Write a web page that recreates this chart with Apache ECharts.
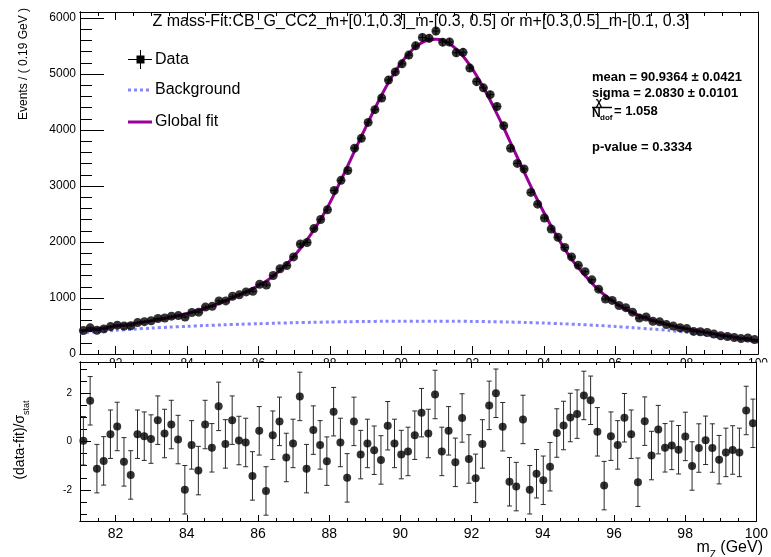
<!DOCTYPE html>
<html><head><meta charset="utf-8">
<script src="https://cdn.jsdelivr.net/npm/echarts@6/dist/echarts.min.js"></script>
<style>html,body{margin:0;padding:0;background:#fff}#c{width:771px;height:557px}</style>
</head><body><div id="c"></div>
<script>
const FONT = '"Liberation Sans", Arial, Helvetica, sans-serif';

// ---- binning ----
const xMin = 81, xMax = 100, binWidth = 0.19;

// ---- data: events per bin ----
const dataCounts = [
  418, 467, 424, 448, 490, 515, 500, 504, 561, 578,
  594, 635, 643, 676, 686, 661, 742, 747, 838, 851,
  948, 949, 1031, 1057, 1109, 1119, 1247, 1232, 1402, 1524,
  1580, 1735, 1965, 1991, 2240, 2403, 2577, 2921, 3103, 3278,
  3677, 3853, 4137, 4365, 4574, 4894, 5040, 5184, 5340, 5505,
  5656, 5640, 5770, 5571, 5574, 5382, 5389, 5108, 4865, 4755,
  4633, 4421, 4078, 3675, 3405, 3306, 2887, 2677, 2430, 2233,
  2086, 1903, 1734, 1584, 1471, 1325, 1159, 981, 957, 866,
  828, 747, 642, 661, 585, 575, 525, 499, 468, 454,
  404, 398, 384, 356, 326, 313, 295, 275, 285, 258
];

// ---- global fit evaluated at bin centres ----
const fitValues = [
  417, 432, 448, 465, 483, 501, 519, 536, 554, 573,
  592, 613, 635, 658, 684, 714, 746, 780, 818, 859,
  904, 952, 1003, 1056, 1110, 1168, 1232, 1306, 1392, 1492,
  1606, 1738, 1884, 2042, 2218, 2410, 2618, 2855, 3105, 3365,
  3627, 3887, 4142, 4389, 4626, 4849, 5046, 5223, 5370, 5486,
  5567, 5615, 5624, 5602, 5541, 5445, 5318, 5160, 4972, 4762,
  4533, 4291, 4039, 3777, 3515, 3254, 2996, 2747, 2510, 2283,
  2070, 1874, 1693, 1540, 1400, 1265, 1145, 1040, 950, 870,
  800, 739, 686, 640, 599, 563, 531, 503, 475, 450,
  425, 403, 383, 361, 340, 321, 301, 283, 264, 246
];
const fitAtEdges = [410, 238];   // fit at m = 81 and m = 100

// ---- background component ----
const bkgMass = [81, 81.5, 82, 82.5, 83, 83.5, 84, 84.5, 85, 85.5, 86, 86.5, 87, 87.5, 88, 88.5, 89, 89.5, 90, 90.5,
  91, 91.5, 92, 92.5, 93, 93.5, 94, 94.5, 95, 95.5, 96, 96.5, 97, 97.5, 98, 98.5, 99, 99.5, 100];
const bkgValues = [375, 400, 423, 444, 463, 480, 495, 509, 521, 532, 542, 551, 559, 566, 572, 577, 581, 584, 586, 587,
  587, 585, 582, 577, 571, 563, 553, 541, 527, 511, 492, 471, 447, 420, 387, 346, 300, 255, 210];

// ---- pulls (data-fit)/sigma_stat ----
const pullValues = [
  0.03, 1.68, -1.12, -0.80, 0.30, 0.62, -0.84, -1.38, 0.30, 0.22,
  0.10, 0.88, 0.33, 0.70, 0.08, -1.99, -0.14, -1.20, 0.70, -0.26,
  1.45, -0.10, 0.88, 0.04, -0.04, -1.42, 0.44, -2.04, 0.26, 0.83,
  -0.66, -0.08, 1.86, -1.12, 0.47, -0.14, -0.81, 1.23, -0.04, -1.50,
  0.83, -0.54, -0.08, -0.36, -0.76, 0.65, -0.08, -0.54, -0.41, 0.26,
  1.19, 0.33, 1.94, -0.41, 0.44, -0.86, 0.97, -0.72, -1.52, -0.10,
  1.49, 1.99, 0.61, -1.66, -1.86, 0.91, -1.99, -1.33, -1.60, -1.04,
  0.35, 0.66, 0.99, 1.13, 1.90, 1.70, 0.40, -1.82, 0.22, -0.14,
  0.98, 0.30, -1.68, 0.84, -0.58, 0.49, -0.26, -0.16, -0.34, 0.21,
  -1.01, -0.27, 0.05, -0.27, -0.75, -0.45, -0.35, -0.45, 1.28, 0.75
];
const pullError = 1;
const pullRefLines = [-2, 0, 2];

// ---- tick labels ----
const xMajorTicks = [82, 84, 86, 88, 90, 92, 94, 96, 98, 100];
const yTopMajorTicks = [0, 1000, 2000, 3000, 4000, 5000, 6000];
const pullMajorTicks = [-2, 0, 2];

// minor tick positions
const xMinorTicks = [];
for (let v = 81.5; v < 100; v += 0.5) if (v % 2 !== 0) xMinorTicks.push(v);
const yTopMinorTicks = [];
for (let v = 200; v <= 6000; v += 200) if (v % 1000 !== 0) yTopMinorTicks.push(v);
const pullMinorTicks = [-3, -2.5, -1.5, -1, -0.5, 0.5, 1, 1.5, 2.5, 3];

const binCenters = dataCounts.map((_, i) => +(xMin + binWidth * (i + 0.5)).toFixed(4));

const fitPoints = [[xMin, fitAtEdges[0]]]
  .concat(binCenters.map((c, i) => [c, fitValues[i]]))
  .concat([[xMax, fitAtEdges[1]]]);
const bkgPoints = bkgMass.map((m, i) => [m, bkgValues[i]]);
const dataPoints = binCenters.map((c, i) => [c, dataCounts[i]]);
const pullPoints = binCenters.map((c, i) => [c, pullValues[i]]);

const black = '#000';
const plain = v => String(v);
function xAx(grid, pos, ticks, len, labels, z, labelOpt) {
  return {
    type: 'value', gridIndex: grid, position: pos, min: xMin, max: xMax, z: z,
    axisLine: { show: true, onZero: false, lineStyle: { color: black, width: 1 } },
    axisTick: { show: true, inside: true, length: len, customValues: ticks, lineStyle: { color: black, width: 1 } },
    axisLabel: labels ? Object.assign({ show: true, customValues: ticks, color: black, fontFamily: FONT, formatter: plain }, labelOpt) : { show: false },
    splitLine: { show: false }
  };
}
function yAx(grid, pos, min, max, ticks, len, labels, z, labelOpt) {
  return {
    type: 'value', gridIndex: grid, position: pos, min: min, max: max, z: z,
    axisLine: { show: true, onZero: false, lineStyle: { color: black, width: 1 } },
    axisTick: ticks ? { show: true, inside: true, length: len, customValues: ticks, lineStyle: { color: black, width: 1 } } : { show: false },
    axisLabel: labels ? Object.assign({ show: true, customValues: ticks, color: black, fontFamily: FONT, formatter: plain }, labelOpt) : { show: false },
    splitLine: { show: false }
  };
}

const pullMin = -3.28, pullMax = 3.28, topMax = 6110;
const ZB = 60; // bottom panel drawn above the white cover

const option = {
  animation: false,
  backgroundColor: '#fff',
  grid: [
    { left: 80, right: 8, top: 12, height: 342 },
    { left: 80, right: 8, top: 362, height: 159 }
  ],
  xAxis: [
    xAx(0, 'bottom', xMajorTicks, 8, true, 0, { fontSize: 12, margin: 4 }),
    xAx(0, 'bottom', xMinorTicks, 4, false, 0),
    xAx(0, 'top', xMajorTicks, 8, false, 0),
    xAx(0, 'top', xMinorTicks, 4, false, 0),
    xAx(1, 'bottom', xMajorTicks, 6, true, ZB, { fontSize: 14, margin: 6 }),
    xAx(1, 'bottom', xMinorTicks, 3, false, ZB),
    xAx(1, 'top', xMajorTicks, 6, false, ZB),
    xAx(1, 'top', xMinorTicks, 3, false, ZB)
  ],
  yAxis: [
    yAx(0, 'left', 0, topMax, yTopMajorTicks, 24, true, 0, { fontSize: 12, margin: 4 }),
    yAx(0, 'left', 0, topMax, yTopMinorTicks, 12, false, 0),
    yAx(0, 'right', 0, topMax, null, 0, false, 0),
    yAx(1, 'left', pullMin, pullMax, pullMajorTicks, 11, true, ZB, { fontSize: 10, margin: 8 }),
    yAx(1, 'left', pullMin, pullMax, pullMinorTicks, 7, false, ZB),
    yAx(1, 'right', pullMin, pullMax, null, 0, false, ZB)
  ],
  series: [
    {
      type: 'line', name: 'Background', xAxisIndex: 0, yAxisIndex: 0, data: bkgPoints,
      showSymbol: false, smooth: 0.3, z: 2, silent: true,
      lineStyle: { color: '#8585ff', width: 3, type: [3, 3] }
    },
    {
      type: 'line', name: 'Global fit', xAxisIndex: 0, yAxisIndex: 0, data: fitPoints,
      showSymbol: false, smooth: 0.3, z: 3, silent: true,
      lineStyle: { color: '#990099', width: 3 }
    },
    {
      type: 'custom', xAxisIndex: 0, yAxisIndex: 0, data: dataPoints, z: 4, silent: true,
      renderItem: function (params, api) {
        const x = api.value(0), y = api.value(1), e = Math.sqrt(y);
        const p1 = api.coord([x, y + e]), p2 = api.coord([x, y - e]);
        const p3 = api.coord([x - binWidth / 2, y]), p4 = api.coord([x + binWidth / 2, y]);
        return { type: 'group', children: [
          { type: 'line', shape: { x1: p1[0], y1: p1[1], x2: p2[0], y2: p2[1] }, style: { stroke: black, lineWidth: 1 } },
          { type: 'line', shape: { x1: p3[0], y1: p3[1], x2: p4[0], y2: p4[1] }, style: { stroke: black, lineWidth: 1 } }
        ] };
      }
    },
    {
      type: 'scatter', name: 'Data', xAxisIndex: 0, yAxisIndex: 0, data: dataPoints, z: 5, silent: true,
      symbol: 'circle', symbolSize: 9, itemStyle: { color: black }
    },
    {
      type: 'custom', xAxisIndex: 4, yAxisIndex: 3, data: pullPoints, z: ZB + 1, silent: true,
      renderItem: function (params, api) {
        const x = api.value(0), y = api.value(1);
        const t = api.coord([x, y + pullError]), b = api.coord([x, y - pullError]);
        const c = 2.5;
        const st = { stroke: '#2a2a2a', lineWidth: 1 };
        return { type: 'group', children: [
          { type: 'line', shape: { x1: t[0], y1: t[1], x2: b[0], y2: b[1] }, style: st },
          { type: 'line', shape: { x1: t[0] - c, y1: t[1], x2: t[0] + c, y2: t[1] }, style: st },
          { type: 'line', shape: { x1: b[0] - c, y1: b[1], x2: b[0] + c, y2: b[1] }, style: st }
        ] };
      }
    },
    {
      type: 'scatter', xAxisIndex: 4, yAxisIndex: 3, data: pullPoints, z: ZB + 2, silent: true,
      symbol: 'circle', symbolSize: 8, itemStyle: { color: black },
      markLine: {
        silent: true, symbol: 'none', label: { show: false },
        lineStyle: { color: black, width: 1, type: [1, 2] },
        data: pullRefLines.map(v => ({ yAxis: v }))
      }
    }
  ],
  graphic: [
    { type: 'rect', silent: true, z: 50, shape: { x: 0, y: 362.5, width: 771, height: 200 }, style: { fill: '#fff' } },
    { type: 'text', z: 100, x: 421, y: 22, style: { text: 'Z mass-Fit:CB_G_CC2_m+[0.1,0.3]_m-[0.3, 0.5] or m+[0.3,0.5]_m-[0.1, 0.3]', font: '16px ' + FONT, fill: black, align: 'center', verticalAlign: 'middle' } },
    // legend
    { type: 'line', z: 100, shape: { x1: 128, y1: 59.5, x2: 152, y2: 59.5 }, style: { stroke: black, lineWidth: 1 } },
    { type: 'line', z: 100, shape: { x1: 140.5, y1: 50, x2: 140.5, y2: 69 }, style: { stroke: black, lineWidth: 1 } },
    { type: 'rect', z: 100, shape: { x: 136.5, y: 55.5, width: 8, height: 8 }, style: { fill: black } },
    { type: 'text', z: 100, x: 155, y: 60, style: { text: 'Data', font: '16px ' + FONT, fill: black, align: 'left', verticalAlign: 'middle' } },
    { type: 'line', z: 100, shape: { x1: 128, y1: 90, x2: 152, y2: 90 }, style: { stroke: '#8585ff', lineWidth: 3, lineDash: [3, 3] } },
    { type: 'text', z: 100, x: 155, y: 90, style: { text: 'Background', font: '16px ' + FONT, fill: black, align: 'left', verticalAlign: 'middle' } },
    { type: 'line', z: 100, shape: { x1: 128, y1: 122, x2: 152, y2: 122 }, style: { stroke: '#990099', lineWidth: 3 } },
    { type: 'text', z: 100, x: 155, y: 122, style: { text: 'Global fit', font: '16px ' + FONT, fill: black, align: 'left', verticalAlign: 'middle' } },
    // fit statistics
    { type: 'text', z: 100, x: 592, y: 77, style: { text: 'mean = 90.9364 ± 0.0421', font: 'bold 13px ' + FONT, fill: black, align: 'left', verticalAlign: 'middle' } },
    { type: 'text', z: 100, x: 592, y: 93, style: { text: 'sigma = 2.0830 ± 0.0101', font: 'bold 13px ' + FONT, fill: black, align: 'left', verticalAlign: 'middle' } },
    { type: 'text', z: 100, x: 599, y: 102, style: { text: 'χ', font: 'bold 11px ' + FONT, fill: black, align: 'center', verticalAlign: 'middle' } },
    { type: 'text', z: 100, x: 605, y: 97, style: { text: '2', font: 'bold 7px ' + FONT, fill: black, align: 'center', verticalAlign: 'middle' } },
    { type: 'line', z: 100, shape: { x1: 592, y1: 107.5, x2: 612, y2: 107.5 }, style: { stroke: black, lineWidth: 1.5 } },
    { type: 'text', z: 100, x: 592, y: 114, style: { text: 'N', font: 'bold 12px ' + FONT, fill: black, align: 'left', verticalAlign: 'middle' } },
    { type: 'text', z: 100, x: 600, y: 118, style: { text: 'dof', font: 'bold 8px ' + FONT, fill: black, align: 'left', verticalAlign: 'middle' } },
    { type: 'text', z: 100, x: 614, y: 111, style: { text: '= 1.058', font: 'bold 13px ' + FONT, fill: black, align: 'left', verticalAlign: 'middle' } },
    { type: 'text', z: 100, x: 592, y: 147, style: { text: 'p-value = 0.3334', font: 'bold 13px ' + FONT, fill: black, align: 'left', verticalAlign: 'middle' } },
    // axis titles
    { type: 'text', z: 100, x: 24, y: 64, rotation: Math.PI / 2, style: { text: 'Events / ( 0.19 GeV )', font: '12px ' + FONT, fill: black, align: 'center', verticalAlign: 'middle' } },
    { type: 'text', z: 100, x: 20, y: 440, rotation: Math.PI / 2, style: {
      text: '{n|(data-fit)/σ}{s|stat}', align: 'center', verticalAlign: 'middle', fill: black,
      rich: { n: { fontSize: 14, fontFamily: FONT, lineHeight: 22, verticalAlign: 'middle', fill: black },
              s: { fontSize: 9, fontFamily: FONT, lineHeight: 22, verticalAlign: 'bottom', fill: black } } } },
    { type: 'text', z: 100, x: 763, y: 548, style: {
      text: '{n|m}{s|Z}{n| (GeV)}', align: 'right', verticalAlign: 'middle', fill: black,
      rich: { n: { fontSize: 16, fontFamily: FONT, lineHeight: 24, verticalAlign: 'middle', fill: black },
              s: { fontSize: 10, fontFamily: FONT, lineHeight: 24, verticalAlign: 'bottom', fill: black } } } }
  ]
};

const chart = echarts.init(document.getElementById('c'), null, { renderer: 'canvas' });
chart.setOption(option);
</script>
</body></html>
